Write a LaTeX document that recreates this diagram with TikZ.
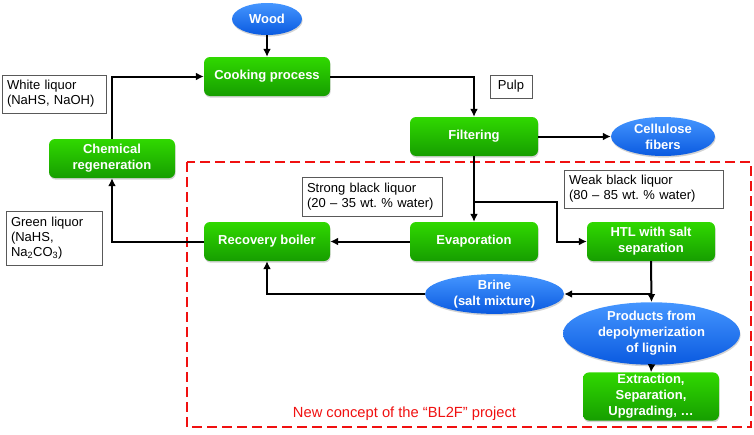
\documentclass[tikz,border=0pt]{standalone}
\usepackage{fontspec}
\setmainfont{Liberation Sans}
\usetikzlibrary{arrows.meta,shapes.geometric,shadows,calc}
\definecolor{gtop}{HTML}{30D800}
\definecolor{gbot}{HTML}{169E00}
\definecolor{btop}{HTML}{4596FF}
\definecolor{bbot}{HTML}{0A5AE0}
\definecolor{redd}{HTML}{F01010}
\begin{document}
\begin{tikzpicture}[x=1pt,y=-1pt,
  every node/.style={font=\fontsize{13}{15}\selectfont},
  gbox/.style={rectangle,rounded corners=6pt,top color=gtop,bottom color=gbot,draw=none,
    text=white,font=\fontsize{13}{16}\selectfont\bfseries,align=center,inner sep=2pt,
    drop shadow={shadow xshift=0.6pt,shadow yshift=-1.6pt,opacity=0.35}},
  bell/.style={ellipse,top color=btop,bottom color=bbot,draw=none,
    text=white,font=\fontsize{13}{16}\selectfont\bfseries,align=center,inner sep=0pt,
    drop shadow={shadow xshift=0.6pt,shadow yshift=-1.6pt,opacity=0.35}},
  lbox/.style={rectangle,draw=black!65,line width=0.9pt,fill=white,align=left,inner xsep=5pt,inner ysep=2pt},
  arr/.style={line width=2pt,-{Latex[length=8pt,width=8pt]}},
  ln/.style={line width=2pt}]
\useasboundingbox (0,0) rectangle (754,434);

% red dashed region
\draw[redd,line width=2.2pt,dash pattern=on 10pt off 5pt] (187,162) rectangle (751,427);
\node[text=redd,anchor=center,font=\fontsize{14.7}{17}\selectfont] (newc) at (404.5,413.5) {New concept of the “BL2F” project};

% process nodes
\node[bell,minimum width=70pt,minimum height=32pt] (wood) at (267,19) {Wood};
\node[gbox,minimum width=126pt,minimum height=39pt] (cook) at (267,76.5) {Cooking process};
\node[gbox,minimum width=126pt,minimum height=39pt] (chem) at (112,158.5) {Chemical\\regeneration};
\node[gbox,minimum width=128pt,minimum height=39pt] (filt) at (474,136.5) {Filtering};
\node[bell,minimum width=104pt,minimum height=39pt] (cell) at (663,136.5) {Cellulose\\fibers};
\node[gbox,minimum width=126pt,minimum height=39pt] (rec) at (267,241.5) {Recovery boiler};
\node[gbox,minimum width=128pt,minimum height=39pt] (evap) at (474,241.5) {Evaporation};
\node[gbox,minimum width=128pt,minimum height=39pt] (htl) at (651,241.5) {HTL with salt\\separation};
\node[bell,minimum width=139pt,minimum height=38pt] (brine) at (494.5,294) {Brine\\(salt mixture)};
\node[bell,minimum width=177pt,minimum height=53pt] (prod) at (651.5,333.5) {Products from\\depolymerization\\of lignin};
\node[gbox,minimum width=136pt,minimum height=47pt] (ext) at (651,396.5) {Extraction,\\Separation,\\Upgrading, …};

% label boxes
\node[lbox,text width=94pt,minimum height=38pt] (white) at (54,94) {White liquor\\(NaHS, NaOH)};
\node[lbox,text width=86pt,minimum height=54pt] (green) at (54,238) {Green liquor\\(NaHS,\\Na\textsubscript{2}CO\textsubscript{3})};
\node[lbox,text width=130pt,minimum height=39pt] (strong) at (372,196.5) {Strong black liquor\\(20 – 35 wt.\ \% water)};
\node[lbox,minimum width=42pt,minimum height=23pt,inner xsep=3pt] (pulp) at (511,86.5) {Pulp};
\node[lbox,text width=149pt,minimum height=38pt] (weak) at (643.5,189) {Weak black liquor\\(80 – 85 wt.\ \% water)};

% junction coordinates
\coordinate (j1) at (474,202);
\coordinate (j2) at (557,202);
\coordinate (j3) at (651,294);

% connectors
\draw[arr] (wood.south) -- (cook.north);
\draw[arr] (chem.north) |- (cook.west);
\draw[arr] (cook.east) -| (filt.north);
\draw[arr] (filt.east) -- (cell.west);
\draw[arr] (filt.south) -- (evap.north);
\draw[arr] (j1) -- (j2) |- (htl.west);
\draw[arr] (evap.west) -- (rec.east);
\draw[arr] (rec.west) -| (chem.south);
\draw[arr] (htl.south) -- (prod.north);
\draw[arr] (j3) -- (brine.east);
\draw[arr] (brine.west) -| (rec.south);
\draw[arr] (prod.south) -- (ext.north);
\end{tikzpicture}
\end{document}
